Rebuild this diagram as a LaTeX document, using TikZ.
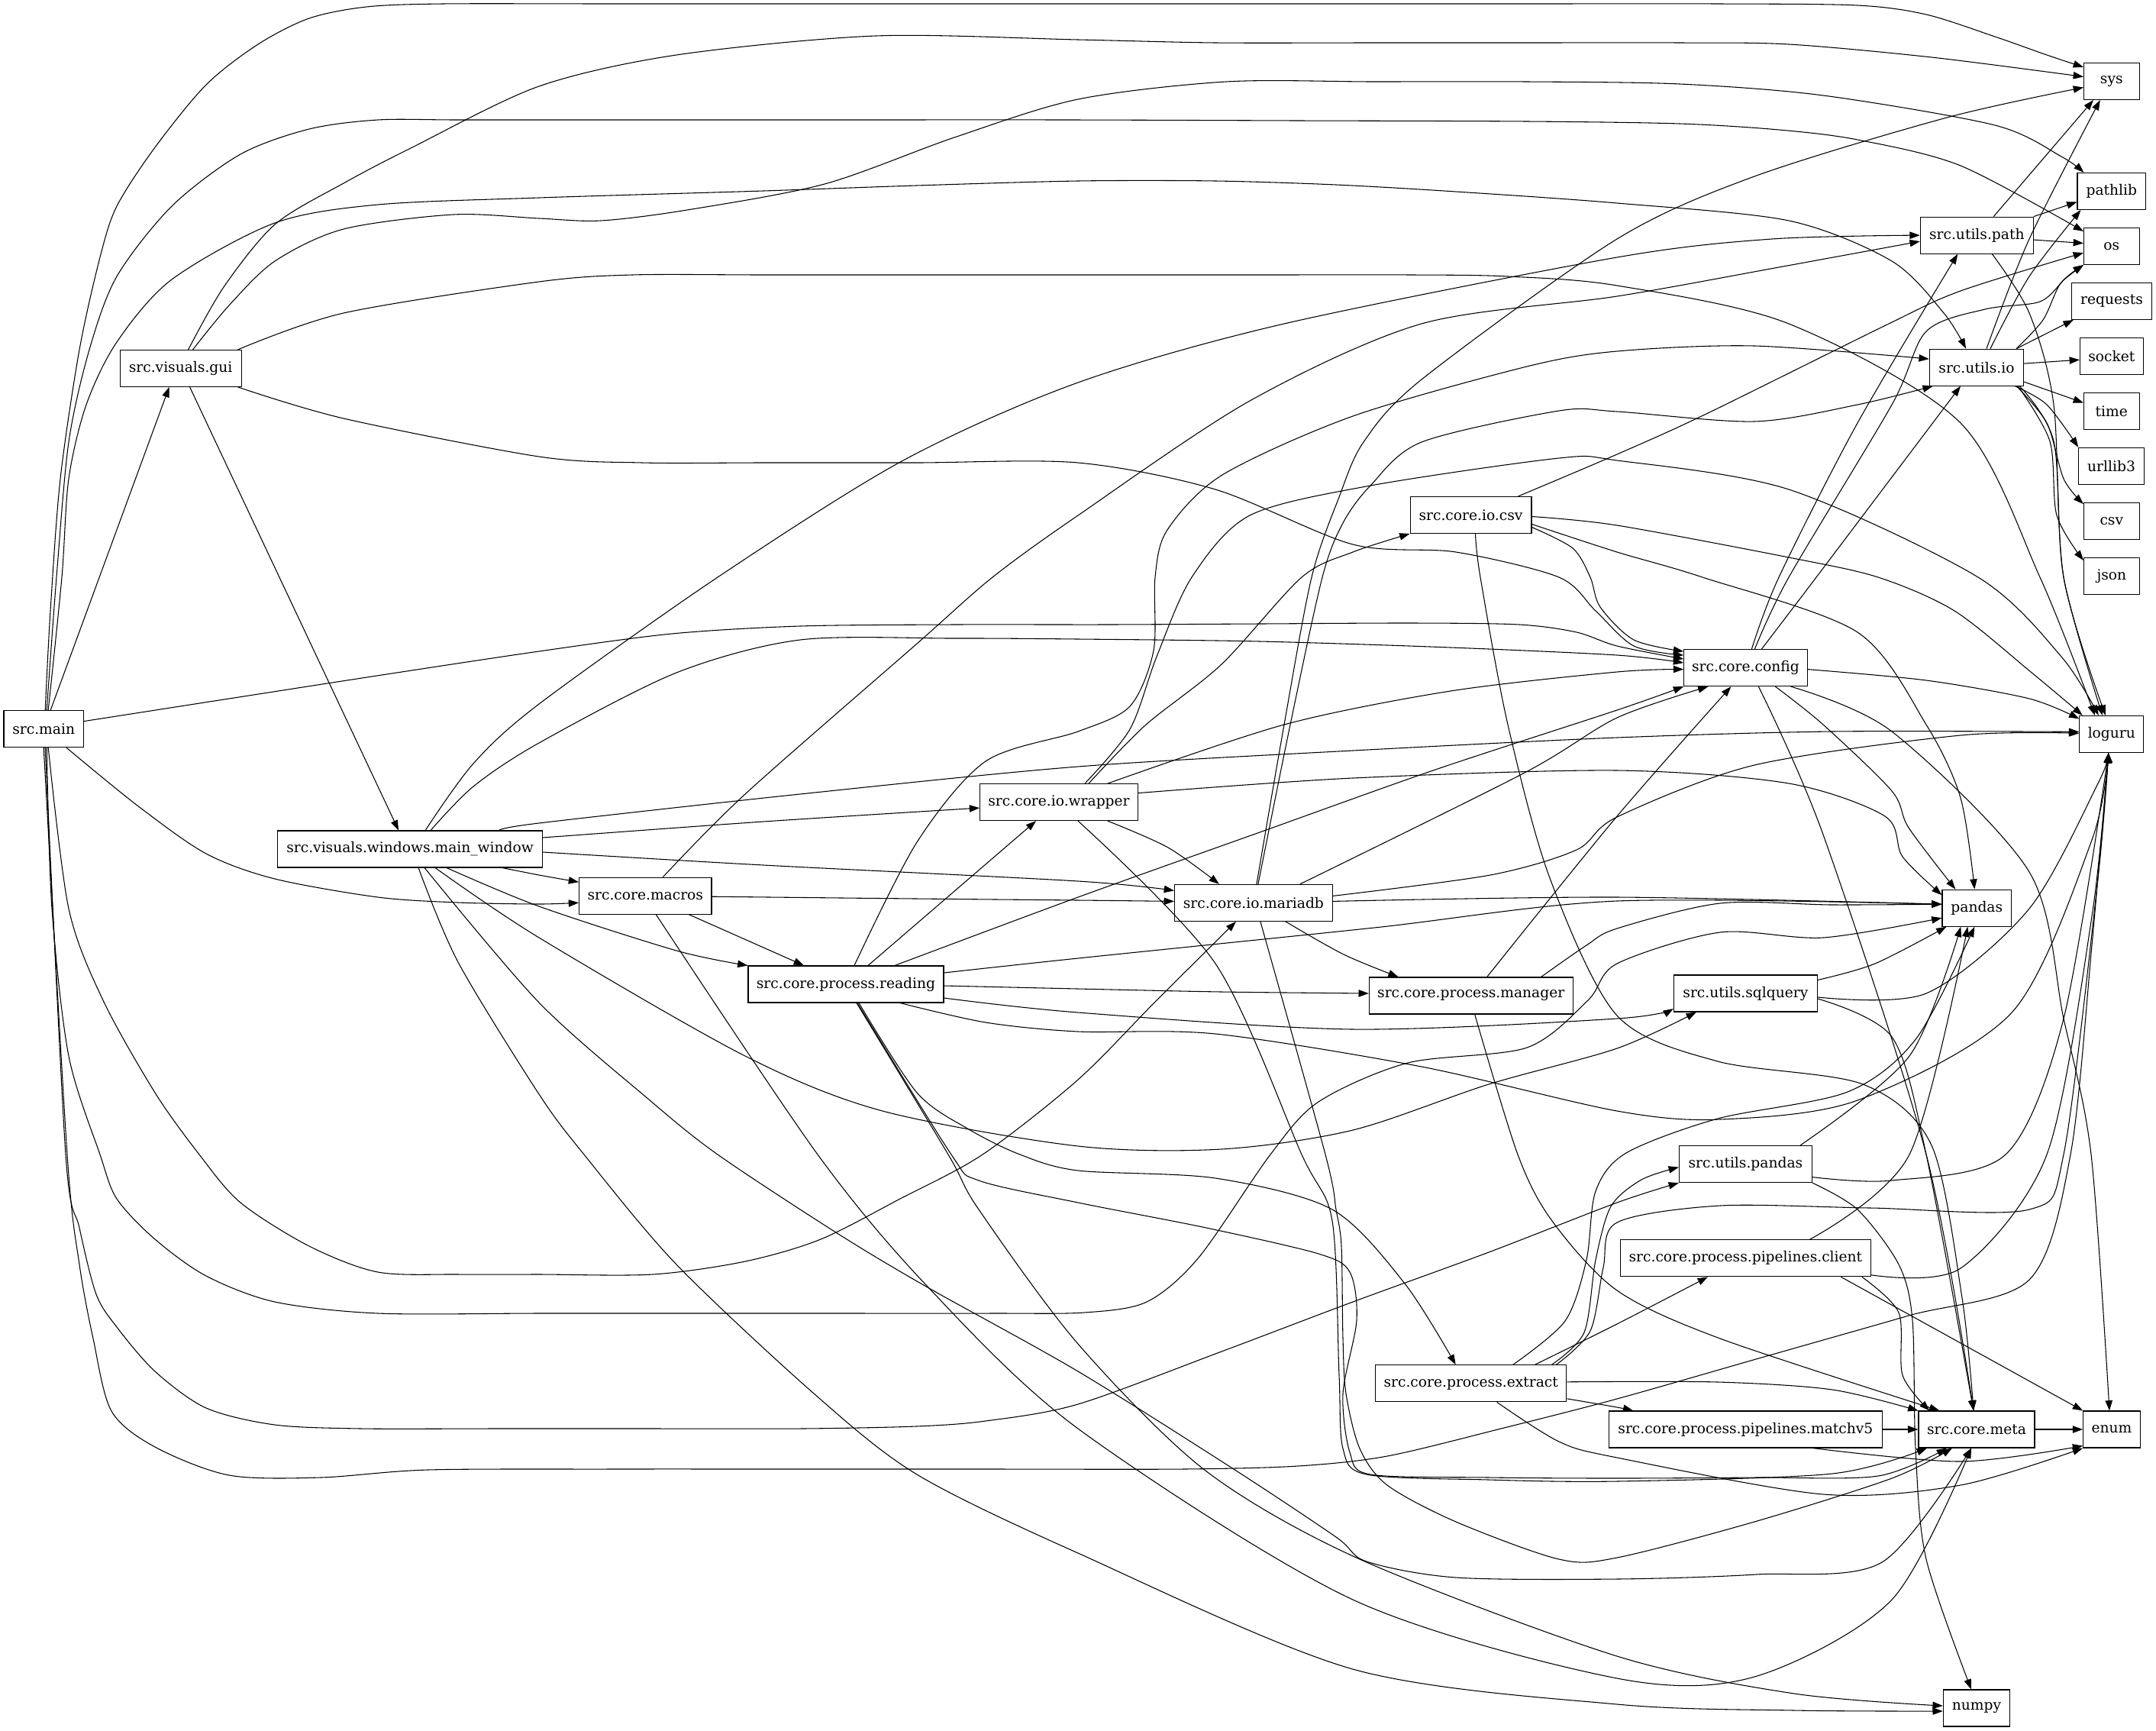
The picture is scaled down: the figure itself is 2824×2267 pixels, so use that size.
\documentclass[tikz,border=0pt]{standalone}
\usepackage{fontspec}
\setmainfont{DejaVu Serif}
\usetikzlibrary{arrows.meta}
\tikzset{
  box/.style={draw, rectangle, line width=0.8pt, minimum height=36pt, inner sep=0pt, font=\fontsize{14pt}{16pt}\selectfont},
  depline/.style={draw, line width=0.8pt, -{Triangle[length=10pt,width=7pt]}}
}
\newcommand\depedge[1]{\draw[depline] plot[smooth,tension=0.5] coordinates {#1};}
\begin{document}
\begin{tikzpicture}[x=0.75pt,y=-0.75pt]
\fill[white] (0,0) rectangle (2824,2267);
\useasboundingbox (0,0) rectangle (2824,2267);
% nodes
\node[box,minimum width=78.3pt] (main) at (57.2,954.6) {src.main};
\node[box,minimum width=119.2pt] (gui) at (236.6,482.4) {src.visuals.gui};
\node[box,minimum width=260pt] (mw) at (537.1,1112) {src.visuals.windows.main\_window};
\node[box,minimum width=130pt] (macros) at (845.3,1173.2) {src.core.macros};
\node[box,minimum width=192pt] (reading) at (1108,1289) {src.core.process.reading};
\node[box,minimum width=155pt] (wrapper) at (1387,1050.6) {src.core.io.wrapper};
\node[box,minimum width=155pt] (mariadb) at (1641.9,1182.4) {src.core.io.mariadb};
\node[box,minimum width=119.2pt] (iocsv) at (1926.5,674.5) {src.core.io.csv};
\node[box,minimum width=200pt] (manager) at (1926.7,1304) {src.core.process.manager};
\node[box,minimum width=187.8pt] (extract) at (1926.7,1811.8) {src.core.process.extract};
\node[box,minimum width=121pt] (config) at (2286.4,874.6) {src.core.config};
\node[box,minimum width=141pt] (sqlq) at (2286.4,1301) {src.utils.sqlquery};
\node[box,minimum width=130.4pt] (upd) at (2286.4,1524.6) {src.utils.pandas};
\node[box,minimum width=245.8pt] (client) at (2286.4,1647.8) {src.core.process.pipelines.client};
\node[box,minimum width=268pt] (matchv) at (2286.4,1872) {src.core.process.pipelines.matchv5};
\node[box,minimum width=111pt] (upath) at (2589.3,308.1) {src.utils.path};
\node[box,minimum width=92.5pt] (uio) at (2589,481.1) {src.utils.io};
\node[box,minimum width=68pt] (pandas) at (2589.3,1189.2) {pandas};
\node[box,minimum width=114pt] (meta) at (2589,1872) {src.core.meta};
\node[box,minimum width=65.5pt] (numpy) at (2589,2237) {numpy};
\node[box,minimum width=54.4pt] (sys) at (2765.8,106.5) {sys};
\node[box,minimum width=67.2pt] (pathlib) at (2765.8,250.5) {pathlib};
\node[box,minimum width=54.4pt] (os) at (2765.8,322.5) {os};
\node[box,minimum width=79pt] (requests) at (2766,394.4) {requests};
\node[box,minimum width=62pt] (socket) at (2765.8,466.2) {socket};
\node[box,minimum width=54.4pt] (time) at (2765.8,538.5) {time};
\node[box,minimum width=64pt] (urllib) at (2765.5,610.3) {urllib3};
\node[box,minimum width=54.4pt] (csvn) at (2765.8,682.7) {csv};
\node[box,minimum width=54.4pt] (json) at (2765.8,754.5) {json};
\node[box,minimum width=63pt] (loguru) at (2765.8,961.4) {loguru};
\node[box,minimum width=56pt] (enum) at (2766,1872) {enum};
% src.main
\depedge{([shift={(9,0)}]main.north) ([shift={(-15,0)}]gui.south)}
\depedge{([shift={(2,0)}]main.north) (66,800) (79,627) (104,458) (131,337) (153,270) (203,193) (270,111) (338,58) (405,24) (480,9) (580,5) (800,5) (1100,5) (1400,5) (1700,5) (2000,5) (2250,5) (2433,7) (2523,19) (2613,48) (2681,72) ([shift={(0,6)}]sys.north west)}
\depedge{([shift={(4,0)}]main.north) (74,756) (90,579) (117,458) (153,362) (225,270) (315,202) (405,169) (495,157) (600,157) (800,157) (1100,157) (1400,157) (1700,158) (2000,159) (2200,162) (2330,170) (2433,183) (2568,217) ([shift={(0,5)}]os.north west)}
\depedge{([shift={(6,0)}]main.north) (81,756) (90,627) (113,530) (153,448) (225,366) (360,292) (495,268) (706,259) (1000,250) (1200,243) (1412,237) (1592,237) (1750,242) (1907,251) (2118,266) (2343,289) (2478,342) (2546,410) ([shift={(-14,0)}]uio.north)}
\depedge{([shift={(0,-10)}]main.east) (300,915) (500,884) (706,853) (880,830) (1048,820) (1250,818) (1450,818) (1650,817) (1850,816) (1990,818) (2065,828) (2118,846) ([shift={(0,13)}]config.north west)}
\depedge{([shift={(-23,0)}]main.south east) (180,1055) (270,1118) (360,1151) (495,1175) (600,1182) (706,1184) ([shift={(0,9)}]macros.west)}
\depedge{([shift={(6,0)}]main.south) (90,1190) (135,1310) (203,1431) (261,1512) (315,1575) (405,1632) (495,1666) (600,1669) (706,1669) (855,1669) (976,1652) (1075,1623) (1179,1570) (1287,1512) (1412,1414) (1515,1310) ([shift={(-23,0)}]mariadb.south)}
\depedge{([shift={(4,0)}]main.south) (68,1190) (90,1383) (131,1512) (153,1570) (203,1623) (270,1671) (360,1705) (495,1720) (706,1720) (900,1720) (1100,1720) (1300,1720) (1420,1719) (1502,1705) (1570,1647) (1664,1512) (1727,1443) (1844,1392) (2000,1372) (2080,1310) (2118,1262) (2253,1221) (2388,1228) ([shift={(0,13)}]pandas.west)}
\depedge{([shift={(2,0)}]main.south) (86,1512) (104,1608) (126,1695) (153,1738) (203,1796) (270,1844) (360,1866) (473,1871) (650,1871) (850,1871) (1050,1871) (1200,1868) (1291,1861) (1412,1839) (1600,1770) (1772,1705) (1950,1640) (2118,1575) (upd.south west)}
\depedge{(main.south) (88,1512) (104,1656) (122,1753) (146,1848) (203,1895) (300,1932) (420,1935) (560,1925) (800,1924) (1050,1924) (1300,1924) (1550,1924) (1700,1920) (1817,1907) (1970,1870) (2118,1832) (2300,1780) (2500,1723) (2658,1676) (2712,1512) (2740,1238) ([shift={(-4,0)}]loguru.south)}
% src.visuals.gui
\depedge{([shift={(10,0)}]gui.north) (293,376) (360,294) (450,240) (540,193) (706,113) (886,72) (1147,47) (1412,52) (1592,56) (1800,56) (2000,56) (2200,56) (2343,58) (2530,75) ([shift={(0,-6)}]sys.west)}
\depedge{([shift={(16,0)}]gui.north) (300,400) (360,342) (450,300) (594,281) (706,286) (787,289) (900,275) (1080,241) (1250,180) (1412,130) (1606,107) (1800,107) (2000,107) (2200,110) (2388,125) (2613,164) (2700,205) ([shift={(9,0)}]pathlib.north west)}
\depedge{([shift={(-5,0)}]gui.north east) (450,410) (706,369) (828,360) (1000,360) (1200,360) (1412,360) (1650,360) (1850,360) (1975,362) (2118,374) (2343,424) (2568,554) (2672,756) ([shift={(-22,0)}]loguru.north)}
\depedge{([shift={(-5,0)}]gui.south east) (450,548) (706,598) (841,606) (1000,606) (1200,606) (1412,606) (1592,641) (1772,713) (1907,723) (2042,756) (2090,800) (2140,846) ([shift={(0,8)}]config.north west)}
\depedge{([shift={(12,0)}]gui.south) ([shift={(-15,0)}]mw.north)}
% main_window
\depedge{([shift={(0,-15)}]mw.east) (1000,1076) ([shift={(0,7.5)}]wrapper.west)}
\depedge{([shift={(0,4)}]mw.east) (1000,1133) (1412,1154) ([shift={(0,-16)}]mariadb.west)}
\depedge{([shift={(-53,0)}]mw.south east) (706,1146) ([shift={(0,-18)}]macros.west)}
\depedge{([shift={(48,0)}]mw.south) (706,1187) (886,1245) (reading.north west)}
\depedge{([shift={(-57,0)}]mw.north east) (706,1078) (1048,1040) (1412,1004) (1772,983) (2118,966) (2400,958) ([shift={(0,-3)}]loguru.west)}
\depedge{([shift={(27,0)}]mw.north) (620,1030) (706,973) (886,881) (1048,838) (1250,836) (1412,837) (1650,840) (1900,848) (2118,858) ([shift={(0,18)}]config.north west)}
\depedge{([shift={(20,0)}]mw.north) (620,1000) (706,922) (940,756) (1183,603) (1412,501) (1682,424) (2118,337) (2321,313) (upath.west)}
\depedge{([shift={(33,0)}]mw.south) (706,1228) (976,1383) (1156,1455) (1412,1501) (1600,1505) (1772,1480) (1950,1420) (2118,1373) ([shift={(30,0)}]sqlq.south west)}
\depedge{([shift={(19,0)}]mw.south) (706,1313) (850,1440) (940,1512) (1098,1616) (1215,1686) (1412,1796) (1619,1926) (1750,2013) (1790,2045) (1907,2066) (2118,2068) (2300,2062) (2465,2046) ([shift={(-7,0)}]meta.south)}
\depedge{([shift={(11,0)}]mw.south) (600,1260) (706,1433) (765,1512) (886,1656) (1066,1825) (1201,1931) (1412,2034) (1772,2186) (2118,2232) (2350,2240) ([shift={(0,4)}]numpy.west)}
% macros
\depedge{([shift={(0,1)}]macros.east) (1200,1177) (1412,1179) ([shift={(0,-2)}]mariadb.west)}
\depedge{([shift={(-30,0)}]macros.south east) ([shift={(-55,0)}]reading.north)}
\depedge{([shift={(23,0)}]macros.north) (976,1040) (1201,843) (1300,756) (1412,675) (1637,525) (1862,424) (2118,388) (2330,350) ([shift={(0,8)}]upath.west)}
\depedge{([shift={(14,0)}]macros.south) (1071,1512) (1215,1685) (1412,1871) (1772,2095) (2118,2198) (2298,2196) (2478,2095) ([shift={(-7,0)}]meta.south)}
% reading
\depedge{([shift={(29,0)}]reading.north) ([shift={(-30,0)}]wrapper.south)}
\depedge{([shift={(64,0)}]reading.north) (1412,1175) (1650,1090) (1880,1008) (2118,930) (config.south west)}
\depedge{([shift={(0,-15)}]reading.east) (1412,1255) (1800,1215) (2118,1180) ([shift={(0,-5)}]pandas.west)}
\depedge{([shift={(0,2)}]reading.east) (1412,1295) (1600,1299) ([shift={(0,-3)}]manager.west)}
\depedge{([shift={(0,18)}]reading.east) (1412,1326) (1772,1348) (2118,1334) ([shift={(0,20)}]sqlq.west)}
\depedge{([shift={(71,0)}]reading.south) (1291,1339) (1412,1351) (1592,1354) (1862,1397) (2118,1455) (2253,1466) (2433,1441) (2636,1325) (2740,1100) ([shift={(-4,0)}]loguru.south)}
\depedge{([shift={(17,0)}]reading.south) (1201,1431) (1269,1479) (1336,1512) (1412,1533) (1592,1543) (1745,1584) (1840,1681) ([shift={(-20,0)}]extract.north)}
\depedge{([shift={(15,0)}]reading.south) (1246,1512) (1282,1546) (1412,1575) (1580,1608) (1727,1642) (1768,1666) (1777,1729) (1759,1825) (1768,1902) (1795,1931) (1950,1935) (2118,1936) (2300,1935) (2460,1933) ([shift={(-39,0)}]meta.south)}
\depedge{([shift={(14,0)}]reading.south) (1242,1512) (1282,1584) (1412,1760) (1579,1926) (1781,2042) (2118,2169) (2350,2218) ([shift={(0,-3)}]numpy.west)}
\depedge{([shift={(11,0)}]reading.north) (1201,1103) (1291,997) (1412,958) (1480,925) (1511,852) (1513,756) (1529,694) (1601,622) (1772,545) (2000,480) (2118,460) (2298,453) ([shift={(0,-11)}]uio.west)}
% wrapper
\depedge{([shift={(39,0)}]wrapper.north) (1500,950) (1600,870) (1705,756) (1772,723) (iocsv.south west)}
\depedge{([shift={(34,0)}]wrapper.north) (1480,955) (1515,860) (1561,756) (1637,675) (1795,636) (2042,600) (2118,603) (2343,641) (2591,756) (2700,860) ([shift={(-17,0)}]loguru.north)}
\depedge{([shift={(-40,0)}]wrapper.north east) (1682,949) (1900,905) (2118,880) ([shift={(0,2)}]config.west)}
\depedge{([shift={(-40,0)}]wrapper.south east) (1530,1110) ([shift={(-45,0)}]mariadb.north)}
\depedge{([shift={(0,-12)}]wrapper.east) (1772,1019) (2118,1009) (2343,1026) (2469,1069) (2492,1122) ([shift={(0,-17)}]pandas.west)}
\depedge{([shift={(25,0)}]wrapper.south) (1592,1262) (1705,1512) (1745,1599) (1754,1801) (1759,1897) (1790,1931) (1950,1938) (2118,1940) (2400,1930) ([shift={(-65,0)}]meta.south)}
% mariadb
\depedge{([shift={(4,0)}]mariadb.north) (1682,949) (1718,756) (1754,651) (1786,579) (1862,497) (2118,313) (2298,231) (2550,154) ([shift={(0,8)}]sys.west)}
\depedge{([shift={(6,0)}]mariadb.north) (1690,949) (1732,756) (1759,685) (1795,636) (1862,579) (2042,538) (2118,539) (2298,552) (2433,530) ([shift={(5,0)}]uio.south west)}
\depedge{([shift={(-43,0)}]mariadb.north east) (1997,1012) (2118,940) ([shift={(-49,0)}]config.south)}
\depedge{([shift={(0,-9)}]mariadb.east) (1952,1146) (2065,1113) (2118,1070) (2298,1002) (2568,963) ([shift={(0,-1)}]loguru.west)}
\depedge{([shift={(0,-2)}]mariadb.east) (2118,1175) ([shift={(0,-5)}]pandas.west)}
\depedge{([shift={(42,0)}]mariadb.south) (1760,1250) ([shift={(-95,0)}]manager.north)}
\depedge{([shift={(9,0)}]mariadb.south) (1736,1512) (1750,1584) (1757,1632) (1759,1753) (1763,1825) (1781,1897) (1817,1945) (1907,1993) (2042,2042) (2118,2040) (2298,1993) (2478,1936) ([shift={(-32,0)}]meta.south)}
% io.csv
\depedge{([shift={(-18,0)}]iocsv.north east) (2118,595) (2235,542) (2474,424) (2568,381) ([shift={(0,-16)}]os.south west)}
\depedge{([shift={(0,2)}]iocsv.east) (2118,688) (2343,730) (2460,756) (2560,800) (2660,880) ([shift={(-38,0)}]loguru.north)}
\depedge{([shift={(0,16)}]iocsv.east) (2060,718) (2083,756) (2096,795) (2140,838) ([shift={(0,3)}]config.north west)}
\depedge{([shift={(0,12)}]iocsv.east) (2118,723) (2230,756) (2433,828) (2523,949) (2568,1045) ([shift={(-3,0)}]pandas.north)}
\depedge{([shift={(6,0)}]iocsv.south) (1939,756) (1975,949) (2030,1150) (2118,1330) (2250,1390) (2440,1420) (2530,1500) (2570,1700) ([shift={(-4,0)}]meta.north)}
% config
\depedge{([shift={(8,0)}]config.north) (2330,756) (2433,554) ([shift={(-25,0)}]upath.south)}
\depedge{([shift={(12,0)}]config.north) (2343,756) (2478,530) (2523,434) (2600,405) (2672,395) (2705,365) (os.south west)}
\depedge{([shift={(21,0)}]config.north) (2379,756) ([shift={(-21,0)}]uio.south)}
\depedge{([shift={(0,2)}]config.east) (2523,891) (2658,915) ([shift={(0,-20)}]loguru.west)}
\depedge{([shift={(39,0)}]config.south) (2388,949) (2478,1036) (2500,1084) ([shift={(-28,0)}]pandas.north)}
\depedge{([shift={(17,0)}]config.south) (2388,1093) (2523,1512) ([shift={(-4,0)}]meta.north)}
\depedge{([shift={(-22,0)}]config.south east) (2478,958) (2658,1142) (2703,1334) (2739,1512) ([shift={(-3,0)}]enum.north)}
% manager
\depedge{([shift={(21,0)}]manager.north) (2118,1069) ([shift={(-19,0)}]config.south)}
\depedge{([shift={(-42,0)}]manager.north east) (2078,1238) (2118,1216) (2253,1183) (2400,1185) ([shift={(0,-5)}]pandas.west)}
\depedge{([shift={(5,0)}]manager.south) (1988,1512) (2033,1599) (2118,1690) (2253,1753) ([shift={(28,0)}]meta.north west)}
% sqlquery
\depedge{([shift={(0,7)}]sqlq.north east) (2456,1262) ([shift={(6,0)}]pandas.south west)}
\depedge{([shift={(0,5)}]sqlq.east) (2523,1301) (2658,1190) (2748,1026) ([shift={(-4,0)}]loguru.south)}
\depedge{([shift={(0,7)}]sqlq.east) (2478,1358) (2523,1512) ([shift={(-4,0)}]meta.north)}
% utils.pandas
\depedge{([shift={(-16,0)}]upd.north east) (2501,1383) ([shift={(-21,0)}]pandas.south)}
\depedge{([shift={(0,17)}]upd.east) (2478,1546) (2627,1512) (2703,1334) ([shift={(-4,0)}]loguru.south)}
\depedge{(upd.south east) (2433,1584) (2487,1656) (2505,1729) (2509,1897) (2523,2042) ([shift={(-7,0)}]numpy.north)}
% client
\depedge{([shift={(84,0)}]client.north) (2501,1512) ([shift={(-12,0)}]pandas.south)}
\depedge{([shift={(0,22)}]client.east) (2568,1661) (2681,1512) (2740,1200) ([shift={(-4,0)}]loguru.south)}
\depedge{([shift={(-12,0)}]client.south east) (2487,1719) (2492,1801) ([shift={(15,0)}]meta.north west)}
\depedge{([shift={(125,0)}]client.south) (enum.north west)}
% extract
\depedge{([shift={(-20,0)}]extract.north east) (2075,1745) (2090,1650) (2110,1580) (2150,1545) ([shift={(0,4)}]upd.west)}
\depedge{([shift={(-42,0)}]extract.north east) (2118,1734) ([shift={(115,0)}]client.south west)}
\depedge{([shift={(55,0)}]extract.north) (2050,1730) (2078,1650) (2090,1560) (2130,1510) (2250,1465) (2420,1430) (2510,1360) ([shift={(-3,0)}]pandas.south)}
\depedge{([shift={(-14,0)}]extract.north east) (2083,1743) (2100,1660) (2118,1601) (2253,1579) (2450,1582) (2658,1584) (2703,1512) (2748,1150) ([shift={(-4,0)}]loguru.south)}
\depedge{([shift={(0,-2)}]extract.east) (2250,1810) (2400,1820) (meta.north west)}
\depedge{([shift={(0,20)}]extract.east) (2118,1843) ([shift={(32,0)}]matchv.north west)}
\depedge{([shift={(34,0)}]extract.south) (2042,1888) (2118,1909) (2388,1957) (2568,1945) (enum.south west)}
% matchv5, meta
\depedge{(matchv.east) (meta.west)}
\depedge{([shift={(88,0)}]matchv.south) (2568,1914) ([shift={(0,-3)}]enum.south west)}
\depedge{(meta.east) (enum.west)}
% utils.path
\depedge{([shift={(22,0)}]upath.north) ([shift={(13,0)}]sys.south west)}
\depedge{(upath.north east) ([shift={(0,14)}]pathlib.west)}
\depedge{([shift={(0,6)}]upath.east) ([shift={(0,-4)}]os.west)}
\depedge{([shift={(20,0)}]upath.south) (2658,410) (2690,530) (2703,756) ([shift={(-8,0)}]loguru.north)}
% utils.io
\depedge{([shift={(13,0)}]uio.north) (2658,313) ([shift={(-15,0)}]sys.south)}
\depedge{([shift={(18,0)}]uio.north) (2658,362) ([shift={(5,0)}]pathlib.south west)}
\depedge{([shift={(-10,0)}]uio.north east) (2676,419) (2699,371) (os.south west)}
\depedge{([shift={(-10,0)}]uio.north east) ([shift={(3,0)}]requests.south west)}
\depedge{([shift={(0,-5)}]uio.east) ([shift={(0,5)}]socket.west)}
\depedge{([shift={(0,19)}]uio.east) ([shift={(0,-11)}]time.west)}
\depedge{([shift={(-12,0)}]uio.south east) (2681,530) (urllib.north west)}
\depedge{([shift={(-10,0)}]uio.south east) (2681,554) (2703,627) ([shift={(0,2)}]csvn.north west)}
\depedge{([shift={(-8,0)}]uio.south east) (2685,578) (2694,675) ([shift={(0,4)}]json.north west)}
\depedge{([shift={(-6,0)}]uio.south east) (2690,578) (2703,756) ([shift={(-12,0)}]loguru.north)}
\end{tikzpicture}
\end{document}
